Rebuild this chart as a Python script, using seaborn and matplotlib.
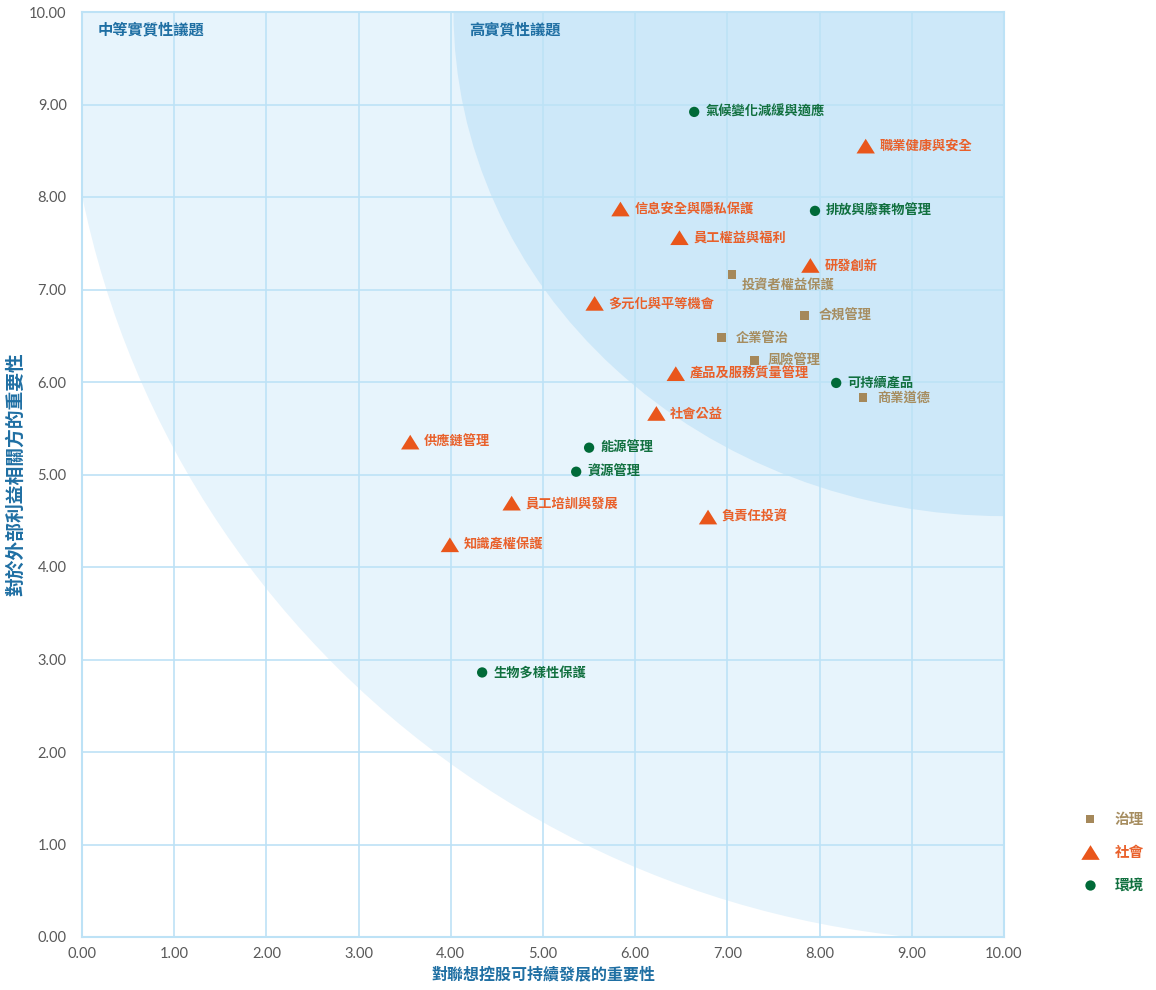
import numpy as np
import pandas as pd
import seaborn as sns
import matplotlib.pyplot as plt
from matplotlib.patches import Ellipse
from matplotlib.path import Path
from matplotlib.ticker import FormatStrFormatter

# materiality matrix data
topics = ['氣候變化減緩與適應', '排放與廢棄物管理', '可持續產品', '能源管理', '資源管理', '生物多樣性保護',
          '職業健康與安全', '信息安全與隱私保護', '員工權益與福利', '研發創新', '多元化與平等機會',
          '產品及服務質量管理', '社會公益', '供應鏈管理', '員工培訓與發展', '負責任投資', '知識產權保護',
          '投資者權益保護', '合規管理', '企業管治', '風險管理', '商業道德']
group_importance = [6.64, 7.95, 8.18, 5.50, 5.36, 4.34,
                    8.50, 5.84, 6.48, 7.90, 5.56,
                    6.44, 6.23, 3.56, 4.66, 6.79, 3.99,
                    7.05, 7.84, 6.94, 7.29, 8.47]
stakeholder_importance = [8.92, 7.85, 5.99, 5.29, 5.03, 2.86,
                          8.55, 7.87, 7.56, 7.26, 6.85,
                          6.09, 5.66, 5.35, 4.69, 4.54, 4.24,
                          7.16, 6.72, 6.48, 6.23, 5.83]
categories = ['環境', '環境', '環境', '環境', '環境', '環境',
              '社會', '社會', '社會', '社會', '社會',
              '社會', '社會', '社會', '社會', '社會', '社會',
              '治理', '治理', '治理', '治理', '治理']
category_order = ['治理', '社會', '環境']
ticks = [0, 1, 2, 3, 4, 5, 6, 7, 8, 9, 10]

df = pd.DataFrame({'topic': topics, 'x': group_importance,
                   'y': stakeholder_importance, '類別': categories})

# styling
colors = {'治理': '#a5885a', '社會': '#e9561b', '環境': '#006a38'}
text_colors = {'治理': '#a68d60', '社會': '#e9602a', '環境': '#11703f'}
tri = Path([(-1, -0.8), (1, -0.8), (0, 0.8), (-1, -0.8)],
           [Path.MOVETO, Path.LINETO, Path.LINETO, Path.CLOSEPOLY])
markers = {'治理': 's', '社會': tri, '環境': 'o'}
sizes = {'治理': 40, '社會': 175, '環境': 55}
label_dx = {'治理': 10, '社會': 10, '環境': 8}
special_offsets = {'投資者權益保護': (7, -7.5)}
grid_color = '#bde2f6'
blue = '#1f6fa3'

sns.set_style('white')
plt.rcParams['font.family'] = ['Noto Sans CJK TC', 'DejaVu Sans']

fig = plt.figure(figsize=(11.56, 9.9), dpi=100)
ax = fig.add_axes([82 / 1156, 53 / 990, 922 / 1156, 925 / 990])

# background zones, both centred at the top right corner
ax.add_patch(Ellipse((10, 10), 2 * 10.2, 2 * 10.05, facecolor='#e7f4fc',
                     edgecolor='none', zorder=0.1))
ax.add_patch(Ellipse((10, 10), 2 * 5.97, 2 * 5.45, facecolor='#cde8f9',
                     edgecolor='none', zorder=0.2))

sns.scatterplot(data=df, x='x', y='y', hue='類別', style='類別', size='類別',
                hue_order=category_order, style_order=category_order,
                size_order=category_order, palette=colors, markers=markers,
                sizes=sizes, linewidth=0, ax=ax, zorder=3)

for x, y, t, c in zip(group_importance, stakeholder_importance, topics, categories):
    dx, dy = special_offsets.get(t, (label_dx[c], 0))
    ax.annotate(t, (x, y), xytext=(dx, dy), textcoords='offset points',
                ha='left', va='center', color=text_colors[c], fontsize=9.5,
                fontweight='bold', zorder=4)

ax.text(0.17, 9.81, '中等實質性議題', color=blue, fontsize=11, fontweight='bold',
        ha='left', va='center')
ax.text(4.20, 9.81, '高實質性議題', color=blue, fontsize=11, fontweight='bold',
        ha='left', va='center')

ax.set_xlim(0, 10)
ax.set_ylim(0, 10)
ax.set_xticks(ticks)
ax.set_yticks(ticks)
ax.xaxis.set_major_formatter(FormatStrFormatter('%.2f'))
ax.yaxis.set_major_formatter(FormatStrFormatter('%.2f'))
ax.set_axisbelow(True)
ax.grid(True, color=grid_color, linewidth=1.2)
for s in ax.spines.values():
    s.set_color(grid_color)
    s.set_linewidth(1.5)
ax.tick_params(length=0, labelsize=10.5, labelcolor='#595959')
ax.tick_params(axis='x', pad=7)
ax.tick_params(axis='y', pad=11)
for lab in ax.get_xticklabels() + ax.get_yticklabels():
    lab.set_family(['Lato', 'DejaVu Sans'])

ax.set_xlabel('對聯想控股可持續發展的重要性', color=blue, fontsize=11.5,
              fontweight='bold', labelpad=4)
ax.set_ylabel('對於外部利益相關方的重要性', color=blue, fontsize=13.5,
              fontweight='bold', labelpad=3)

# legend outside, bottom right
sns.move_legend(ax, 'upper left', bbox_to_anchor=(1.063, 0.15), frameon=False,
                title=None, labelspacing=1.15, handletextpad=0.7, fontsize=10.5)
leg = ax.get_legend()
for txt in leg.get_texts():
    txt.set_color(text_colors[txt.get_text()])
    txt.set_fontweight('bold')

plt.savefig('out.png', dpi=100)
